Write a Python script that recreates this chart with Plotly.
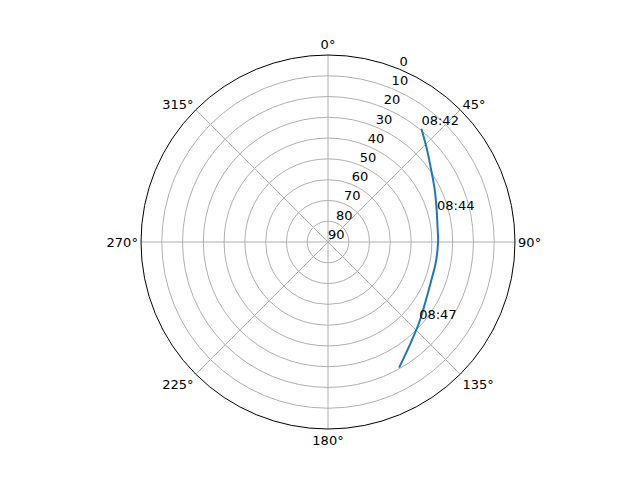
import plotly.graph_objects as go

# satellite pass: azimuth (deg) and elevation (deg)
az = [39.5, 46.8, 54.8, 63.9, 73.6, 83.9, 89.2, 99.9, 110.9, 121.4, 131.1, 140.3, 150.5]
el = [19.3, 24.7, 29.3, 32.8, 35.5, 36.9, 37.0, 37.2, 36.9, 35.0, 31.6, 27.4, 20.5]

label_times = ['08:42', '08:44', '08:47']
label_az = [39.5, 75.0, 131.5]
label_el = [19.3, 35.7, 31.4]

angle_ticks = [0, 45, 90, 135, 180, 225, 270, 315]
radial_ticks = [0, 10, 20, 30, 40, 50, 60, 70, 80, 90]

fig = go.Figure()
fig.add_trace(go.Scatterpolar(
    r=el, theta=az, mode='lines',
    line=dict(color='#1f77b4', width=2, shape='spline'),
    showlegend=False, hoverinfo='skip'))
fig.add_trace(go.Scatterpolar(
    r=label_el, theta=label_az, mode='text', text=label_times,
    textposition='top right', textfont=dict(size=13, color='black'),
    showlegend=False, hoverinfo='skip'))
# radial tick labels, matplotlib style at 22.5 deg
fig.add_trace(go.Scatterpolar(
    r=radial_ticks, theta=[22.5] * len(radial_ticks), mode='text',
    text=[str(t) for t in radial_ticks], textposition='top right',
    textfont=dict(size=13, color='black'), cliponaxis=False,
    showlegend=False, hoverinfo='skip'))

fig.update_layout(
    width=640, height=480,
    paper_bgcolor='white',
    font=dict(family='DejaVu Sans', size=13, color='black'),
    margin=dict(l=133, r=133, t=47, b=59, autoexpand=False),
    polar=dict(
        bgcolor='white',
        angularaxis=dict(
            rotation=90, direction='clockwise',
            tickmode='array', tickvals=angle_ticks,
            ticktext=[f'{a}°' for a in angle_ticks],
            ticks='', showline=True, linecolor='black', linewidth=1,
            gridcolor='#b0b0b0', gridwidth=1),
        radialaxis=dict(
            range=[90, 0], tickmode='array', tickvals=radial_ticks,
            showticklabels=False, showline=False, ticks='',
            gridcolor='#b0b0b0', gridwidth=1)))

fig.write_html("out.html")
